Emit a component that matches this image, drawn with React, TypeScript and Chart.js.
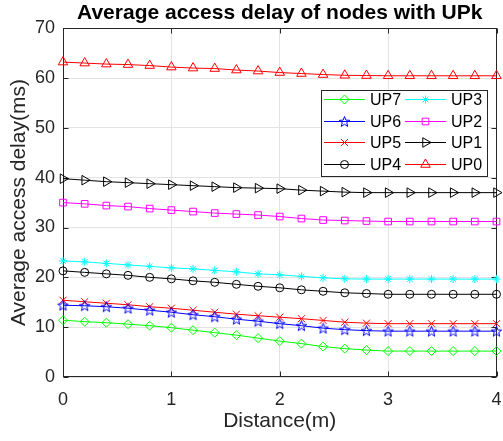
import React, { useEffect, useRef } from 'react';
import { Chart, registerables } from 'chart.js';
import { drawPoint } from 'chart.js/helpers';

Chart.register(...registerables);

const FONT = '"Liberation Sans", Arial, Helvetica, sans-serif';
const AXIS_COLOR = '#262626';

const chartTitle = 'Average access delay of nodes with UPk';
const xTitle = 'Distance(m)';
const yTitle = 'Average access delay(ms)';

const distance = [0, 0.2, 0.4, 0.6, 0.8, 1.0, 1.2, 1.4, 1.6, 1.8, 2.0, 2.2, 2.4, 2.6, 2.8, 3.0, 3.2, 3.4, 3.6, 3.8, 4.0];

const up0 = [63.2, 63.0, 62.8, 62.7, 62.5, 62.2, 62.0, 61.9, 61.6, 61.4, 61.1, 60.9, 60.7, 60.55, 60.5, 60.45, 60.45, 60.45, 60.45, 60.45, 60.45];
const up1 = [39.8, 39.5, 39.2, 39.0, 38.8, 38.6, 38.4, 38.2, 38.0, 37.9, 37.8, 37.5, 37.3, 37.1, 37.0, 37.0, 37.0, 37.0, 37.0, 37.0, 37.0];
const up2 = [35.0, 34.75, 34.4, 34.2, 33.8, 33.5, 33.2, 32.9, 32.7, 32.5, 32.2, 31.8, 31.5, 31.4, 31.3, 31.2, 31.2, 31.2, 31.2, 31.2, 31.2];
const up3 = [23.3, 23.1, 22.8, 22.5, 22.2, 21.9, 21.7, 21.4, 21.1, 20.7, 20.5, 20.2, 19.9, 19.7, 19.65, 19.65, 19.65, 19.65, 19.65, 19.65, 19.65];
const up4 = [21.3, 21.0, 20.7, 20.4, 20.0, 19.7, 19.3, 19.0, 18.6, 18.2, 17.9, 17.5, 17.2, 16.9, 16.75, 16.6, 16.6, 16.6, 16.6, 16.6, 16.6];
const up5 = [15.4, 15.1, 14.8, 14.5, 14.1, 13.8, 13.4, 13.0, 12.6, 12.3, 12.0, 11.7, 11.35, 11.0, 10.8, 10.7, 10.7, 10.7, 10.7, 10.7, 10.7];
const up6 = [14.4, 14.3, 14.1, 13.8, 13.4, 13.0, 12.5, 12.1, 11.6, 11.2, 10.7, 10.3, 9.8, 9.5, 9.3, 9.2, 9.2, 9.2, 9.2, 9.2, 9.2];
const up7 = [11.4, 11.1, 10.9, 10.6, 10.3, 9.9, 9.4, 8.9, 8.4, 7.8, 7.2, 6.7, 6.1, 5.7, 5.4, 5.2, 5.2, 5.2, 5.2, 5.2, 5.2];

const legendOrder = ['UP7', 'UP6', 'UP5', 'UP4', 'UP3', 'UP2', 'UP1', 'UP0'];

function makePentagram(color: string) {
  const c = document.createElement('canvas');
  const s = 13;
  c.width = s;
  c.height = s;
  const ctx = c.getContext('2d')!;
  const cx = s / 2;
  const cy = s / 2 + 0.5;
  const R = 5.5;
  const r = R * 0.42;
  ctx.beginPath();
  for (let i = 0; i < 10; i++) {
    const a = -Math.PI / 2 + (i * Math.PI) / 5;
    const rad = i % 2 === 0 ? R : r;
    ctx.lineTo(cx + rad * Math.cos(a), cy + rad * Math.sin(a));
  }
  ctx.closePath();
  ctx.strokeStyle = color;
  ctx.lineWidth = 1;
  ctx.stroke();
  return c;
}

function series(label: string, values: number[], color: string, pointStyle: any, radius: number, rotation = 0) {
  return {
    label,
    data: distance.map((x, i) => ({ x, y: values[i] })),
    borderColor: color,
    backgroundColor: color,
    borderWidth: 1,
    pointStyle,
    pointRadius: radius,
    pointRotation: rotation,
    pointBorderColor: color,
    pointBackgroundColor: 'rgba(0,0,0,0)',
    pointBorderWidth: 1,
    pointHoverRadius: radius,
    tension: 0,
    clip: false as any,
  };
}

const framePlugin = {
  id: 'frameBox',
  beforeDatasetsDraw(chart: any) {
    const { ctx, chartArea, scales } = chart;
    const l = Math.round(chartArea.left) + 0.5;
    const r = Math.round(chartArea.right) - 0.5;
    const t = Math.round(chartArea.top) + 0.5;
    const b = Math.round(chartArea.bottom) - 0.5;
    ctx.save();
    ctx.strokeStyle = AXIS_COLOR;
    ctx.lineWidth = 1;
    ctx.strokeRect(l, t, r - l, b - t);
    const tl = 5;
    ctx.beginPath();
    scales.x.ticks.forEach((tk: any) => {
      const px = Math.round(scales.x.getPixelForValue(tk.value)) + 0.5;
      ctx.moveTo(px, b);
      ctx.lineTo(px, b - tl);
      ctx.moveTo(px, t);
      ctx.lineTo(px, t + tl);
    });
    scales.y.ticks.forEach((tk: any) => {
      const py = Math.round(scales.y.getPixelForValue(tk.value)) + 0.5;
      ctx.moveTo(l, py);
      ctx.lineTo(l + tl, py);
      ctx.moveTo(r, py);
      ctx.lineTo(r - tl, py);
    });
    ctx.stroke();
    ctx.restore();
  },
};

const legendPlugin = {
  id: 'boxLegend',
  afterDraw(chart: any) {
    const { ctx } = chart;
    const bx = 321.5;
    const by = 90.5;
    const bw = 166;
    const bh = 86;
    ctx.save();
    ctx.fillStyle = '#ffffff';
    ctx.fillRect(bx, by, bw, bh);
    ctx.strokeStyle = AXIS_COLOR;
    ctx.lineWidth = 1;
    ctx.strokeRect(bx, by, bw, bh);
    legendOrder.forEach((name, i) => {
      const ds = chart.data.datasets.find((d: any) => d.label === name);
      if (!ds) return;
      const col = Math.floor(i / 4);
      const row = i % 4;
      const x0 = 324 + col * 81;
      const x1 = x0 + 41;
      const y = Math.round(by + 8.5 + row * 21.5) + 0.5;
      ctx.strokeStyle = ds.borderColor;
      ctx.lineWidth = 1;
      ctx.beginPath();
      ctx.moveTo(x0, y);
      ctx.lineTo(x1, y);
      ctx.stroke();
      ctx.fillStyle = 'rgba(0,0,0,0)';
      ctx.strokeStyle = ds.borderColor;
      drawPoint(ctx, { pointStyle: ds.pointStyle, rotation: ds.pointRotation || 0, radius: ds.pointRadius, borderWidth: 1 } as any, (x0 + x1) / 2, y);
      ctx.fillStyle = '#000000';
      ctx.font = `16px ${FONT}`;
      ctx.textBaseline = 'middle';
      ctx.textAlign = 'left';
      ctx.fillText(name, x1 + 5, y + 1);
    });
    ctx.restore();
  },
};

export default function App() {
  const ref = useRef<HTMLCanvasElement>(null);

  useEffect(() => {
    const canvas = ref.current!;
    const star6 = makePentagram('#0000ff');
    const datasets = [
      series('UP7', up7, '#00ff00', 'rectRot', 4.5),
      series('UP6', up6, '#0000ff', star6, 5),
      series('UP5', up5, '#ff0000', 'crossRot', 5),
      series('UP4', up4, '#000000', 'circle', 4),
      series('UP3', up3, '#00ffff', 'star', 4),
      series('UP2', up2, '#ff00ff', 'rect', 4.7),
      series('UP1', up1, '#000000', 'triangle', 5.5, 90),
      series('UP0', up0, '#ff0000', 'triangle', 5.5),
    ];

    const chart = new Chart(canvas, {
      type: 'line',
      data: { datasets } as any,
      options: {
        responsive: false,
        animation: false,
        devicePixelRatio: 1,
        layout: { padding: { left: 0, right: 4, top: 0, bottom: 0 } },
        plugins: {
          legend: { display: false },
          tooltip: { enabled: false },
          title: {
            display: true,
            text: chartTitle,
            color: '#000000',
            font: { family: FONT, size: 21, weight: 'bold' },
            padding: { top: 1, bottom: 2 },
            fullSize: false,
          } as any,
        },
        scales: {
          x: {
            type: 'linear',
            min: 0,
            max: 4,
            ticks: { stepSize: 1, color: AXIS_COLOR, font: { family: FONT, size: 18 }, padding: 12, maxRotation: 0 },
            grid: { color: '#e3e3e3', lineWidth: 1, drawTicks: false },
            border: { display: false },
            title: { display: true, text: xTitle, color: AXIS_COLOR, font: { family: FONT, size: 21 }, padding: { top: 0, bottom: 7 } },
            afterFit: (s: any) => {
              s.height = 64;
              s.paddingLeft = 0;
              s.paddingRight = 0;
            },
          },
          y: {
            min: 0,
            max: 70,
            ticks: { stepSize: 10, color: AXIS_COLOR, font: { family: FONT, size: 18 }, padding: 8 },
            grid: { color: '#e3e3e3', lineWidth: 1, drawTicks: false },
            border: { display: false },
            title: { display: true, text: yTitle, color: AXIS_COLOR, font: { family: FONT, size: 21 }, padding: { top: 7, bottom: 0 } },
            afterFit: (s: any) => {
              s.width = 63;
              s.paddingTop = 0;
              s.paddingBottom = 0;
            },
          },
        },
      } as any,
      plugins: [framePlugin, legendPlugin],
    });
    return () => chart.destroy();
  }, []);

  return (
    <div style={{ position: 'absolute', left: 0, top: 0, width: 503, height: 441, background: '#ffffff' }}>
      <canvas ref={ref} width={503} height={441} style={{ display: 'block', width: 503, height: 441 }} />
    </div>
  );
}
